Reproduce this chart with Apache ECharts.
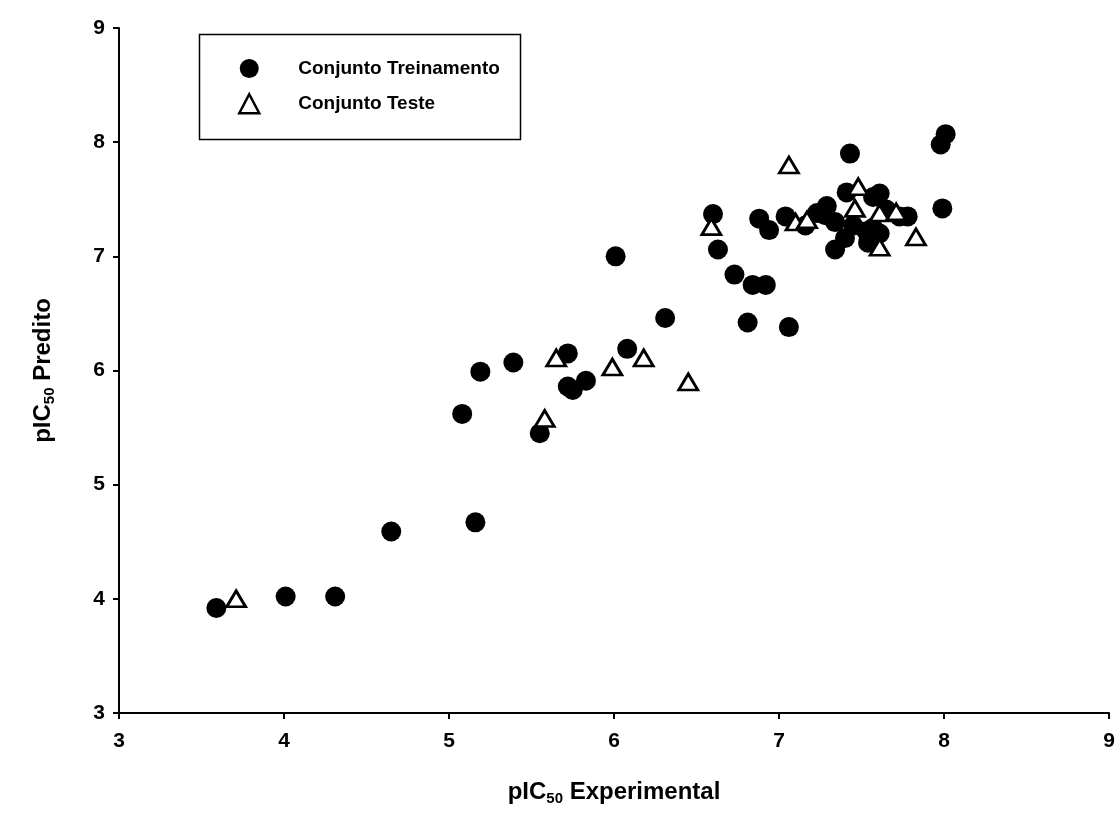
<!DOCTYPE html>
<html>
<head>
<meta charset="utf-8">
<script src="https://cdn.jsdelivr.net/npm/echarts@6/dist/echarts.min.js"></script>
<style>html,body{margin:0;padding:0;background:#fff;}#c{width:1120px;height:828px;}</style>
</head>
<body>
<div id="c"></div>
<script>
const trainX = [3.59,4.01,4.31,4.65,5.16,5.08,5.19,5.39,5.55,5.72,5.72,5.75,5.83,6.08,6.01,6.31,6.60,6.63,6.73,6.84,6.92,6.81,7.06,6.88,6.94,7.04,7.16,7.23,7.29,7.28,7.34,7.34,7.40,7.43,7.41,7.45,7.53,7.54,7.57,7.61,7.61,7.57,7.65,7.73,7.78,7.98,8.01,7.99];
const trainY = [3.92,4.02,4.02,4.59,4.67,5.62,5.99,6.07,5.45,6.15,5.86,5.83,5.91,6.19,7.00,6.46,7.37,7.06,6.84,6.75,6.75,6.42,6.38,7.33,7.23,7.35,7.27,7.38,7.44,7.36,7.30,7.06,7.16,7.90,7.56,7.27,7.22,7.12,7.52,7.55,7.20,7.25,7.41,7.35,7.35,7.98,8.07,7.42];
const testX = [3.71,5.58,5.65,5.99,6.18,6.45,6.59,7.06,7.10,7.17,7.46,7.48,7.61,7.71,7.61,7.83];
const testY = [4.00,5.58,6.11,6.03,6.11,5.90,7.26,7.80,7.30,7.32,7.42,7.61,7.38,7.39,7.08,7.17];
const ticks = [3,4,5,6,7,8,9];
const seriesNames = ['Conjunto Treinamento','Conjunto Teste'];

const FONT = '"Liberation Sans", Arial, sans-serif';
const chart = echarts.init(document.getElementById('c'));
const zip = (a,b) => a.map((v,i)=>[v,b[i]]);
const axisCommon = {
  type: 'value', min: ticks[0], max: ticks[ticks.length-1], interval: 1,
  splitLine: {show:false},
  axisLine: {show:true, onZero:false, lineStyle:{color:'#000', width:2}},
  axisTick: {show:true, length:6, lineStyle:{color:'#000', width:2}},
  axisLabel: {color:'#000', fontFamily:FONT, fontWeight:'bold', fontSize:21},
  nameLocation: 'middle',
  nameTextStyle: {
    color:'#000', fontFamily:FONT, fontWeight:'bold', fontSize:24,
    rich: {
      a: {fontFamily:FONT, fontWeight:'bold', fontSize:24, color:'#000'},
      s: {fontFamily:FONT, fontWeight:'bold', fontSize:15, color:'#000', verticalAlign:'bottom', padding:[12,0,0,0]}
    }
  }
};
chart.setOption({
  animation: false,
  backgroundColor: '#fff',
  grid: {left:119, right:11, top:28, bottom:115},
  xAxis: Object.assign({}, axisCommon, {
    name: '{a|pIC}{s|50}{a| Experimental}', nameGap: 66,
    axisLabel: Object.assign({}, axisCommon.axisLabel, {margin:18})
  }),
  yAxis: Object.assign({}, axisCommon, {
    name: '{a|pIC}{s|50}{a| Predito}', nameGap: 62,
    axisLabel: Object.assign({}, axisCommon.axisLabel, {margin:14})
  }),
  legend: {
    left: 233, top: 54, orient: 'vertical', itemGap: 15,
    itemWidth: 20, itemHeight: 19,
    textStyle: {color:'#000', fontFamily:FONT, fontWeight:'bold', fontSize:19, padding:[0,0,0,34]},
    data: [
      {name: seriesNames[0], icon: 'circle'},
      {name: seriesNames[1], icon: 'triangle', itemStyle:{color:'#fff', borderColor:'#000', borderWidth:2.5}}
    ]
  },
  graphic: [{
    type: 'rect', left: 197, top: 32, shape: {width: 321, height: 105},
    style: {fill: 'none', stroke: '#000', lineWidth: 1.5}, z: 0
  }],
  series: [
    {
      name: seriesNames[0], type: 'scatter', data: zip(trainX, trainY),
      symbol: 'circle', symbolSize: 20,
      itemStyle: {color:'#000', opacity:1}
    },
    {
      name: seriesNames[1], type: 'scatter', data: zip(testX, testY),
      symbol: 'triangle', symbolSize: [19,16],
      itemStyle: {color:'#fff', borderColor:'#000', borderWidth:2.8, opacity:1}
    }
  ]
});
</script>
</body>
</html>
